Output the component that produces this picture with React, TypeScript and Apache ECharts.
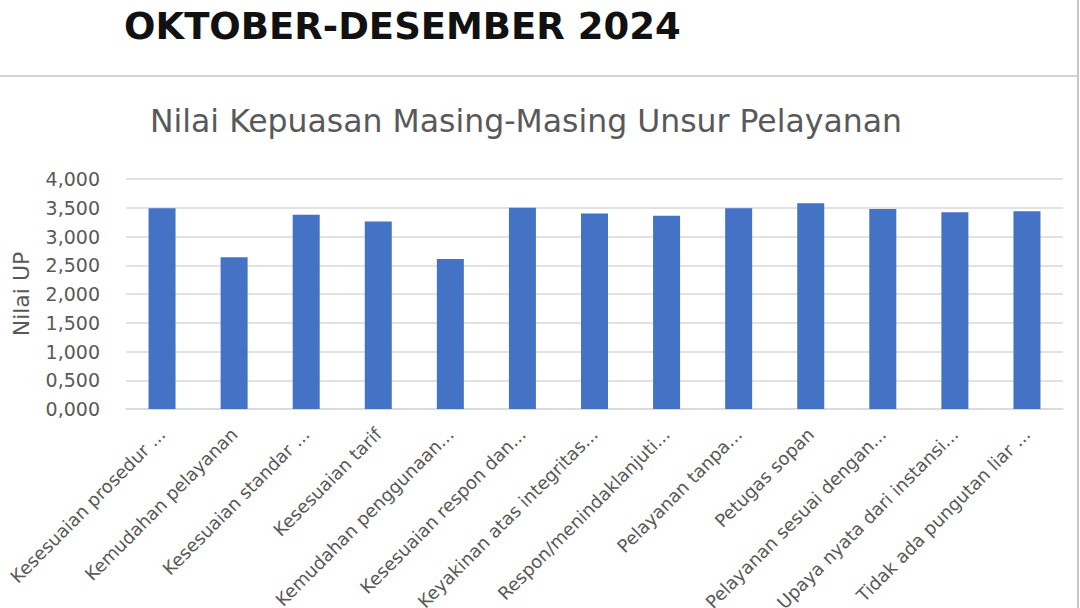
import { useEffect, useRef } from 'react'
import * as echarts from 'echarts'

const heading = 'OKTOBER-DESEMBER 2024'
const chartTitle = 'Nilai Kepuasan Masing-Masing Unsur Pelayanan'
const yName = 'Nilai UP'

const categories = [
  'Kesesuaian prosedur ...',
  'Kemudahan pelayanan',
  'Kesesuaian standar ...',
  'Kesesuaian tarif',
  'Kemudahan penggunaan...',
  'Kesesuaian respon dan...',
  'Keyakinan atas integritas...',
  'Respon/menindaklanjuti...',
  'Pelayanan tanpa...',
  'Petugas sopan',
  'Pelayanan sesuai dengan...',
  'Upaya nyata dari instansi...',
  'Tidak ada pungutan liar ...',
]

const values = [3.49, 2.64, 3.38, 3.26, 2.61, 3.5, 3.4, 3.36, 3.49, 3.58, 3.48, 3.42, 3.44]

// 3 desimal, koma sebagai pemisah desimal
const fmt = (v: number) => v.toFixed(3).replace('.', ',')

export default function App() {
  const chartRef = useRef<HTMLDivElement>(null)

  useEffect(() => {
    if (!chartRef.current) return
    const chart = echarts.init(chartRef.current, null, { renderer: 'svg' })

    const option: any = {
      animation: false,
      backgroundColor: '#ffffff',
      title: [
        {
          text: heading,
          left: 119,
          top: 3,
          textStyle: {
            fontFamily: 'DejaVu Sans',
            fontWeight: 'bold',
            fontSize: 37,
            color: '#111111',
          },
        },
        {
          text: chartTitle,
          left: 145,
          top: 100,
          textStyle: {
            fontFamily: 'DejaVu Sans',
            fontWeight: 'normal',
            fontSize: 31.5,
            color: '#595959',
          },
        },
      ],
      graphic: [
        {
          type: 'line',
          shape: { x1: 0, y1: 76, x2: 1078, y2: 76 },
          style: { stroke: '#d4d4d4', lineWidth: 2 },
        },
        {
          type: 'line',
          shape: { x1: 1078, y1: 0, x2: 1078, y2: 608 },
          style: { stroke: '#c8c8c8', lineWidth: 2 },
        },
      ],
      // label sumbu x memang terpotong di tepi bawah, grid jangan menyusut
      grid: { left: 126, right: 17, top: 179, bottom: 199, containLabel: false, outerBoundsMode: 'none' },
      xAxis: {
        type: 'category',
        data: categories,
        axisLine: { lineStyle: { color: '#d9d9d9', width: 1.5 } },
        axisTick: { show: false },
        axisLabel: {
          rotate: 45,
          interval: 0,
          margin: 22,
          fontFamily: 'DejaVu Sans',
          fontSize: 18,
          color: '#595959',
        },
      },
      yAxis: {
        type: 'value',
        min: 0,
        max: 4,
        interval: 0.5,
        name: yName,
        nameLocation: 'middle',
        nameGap: 94,
        nameTextStyle: { fontFamily: 'DejaVu Sans', fontSize: 22, color: '#595959' },
        axisLine: { show: false },
        axisTick: { show: false },
        splitLine: { lineStyle: { color: '#d9d9d9', width: 1.5 } },
        axisLabel: {
          formatter: (v: number) => fmt(v),
          fontFamily: 'DejaVu Sans',
          fontSize: 19,
          color: '#595959',
          margin: 26,
        },
      },
      series: [
        {
          type: 'bar',
          data: values,
          barWidth: 27,
          itemStyle: { color: '#4472c4' },
        },
      ],
    }

    chart.setOption(option)
    return () => chart.dispose()
  }, [])

  return (
    <div
      ref={chartRef}
      style={{ position: 'fixed', left: 0, top: 0, width: 1080, height: 608 }}
    />
  )
}
